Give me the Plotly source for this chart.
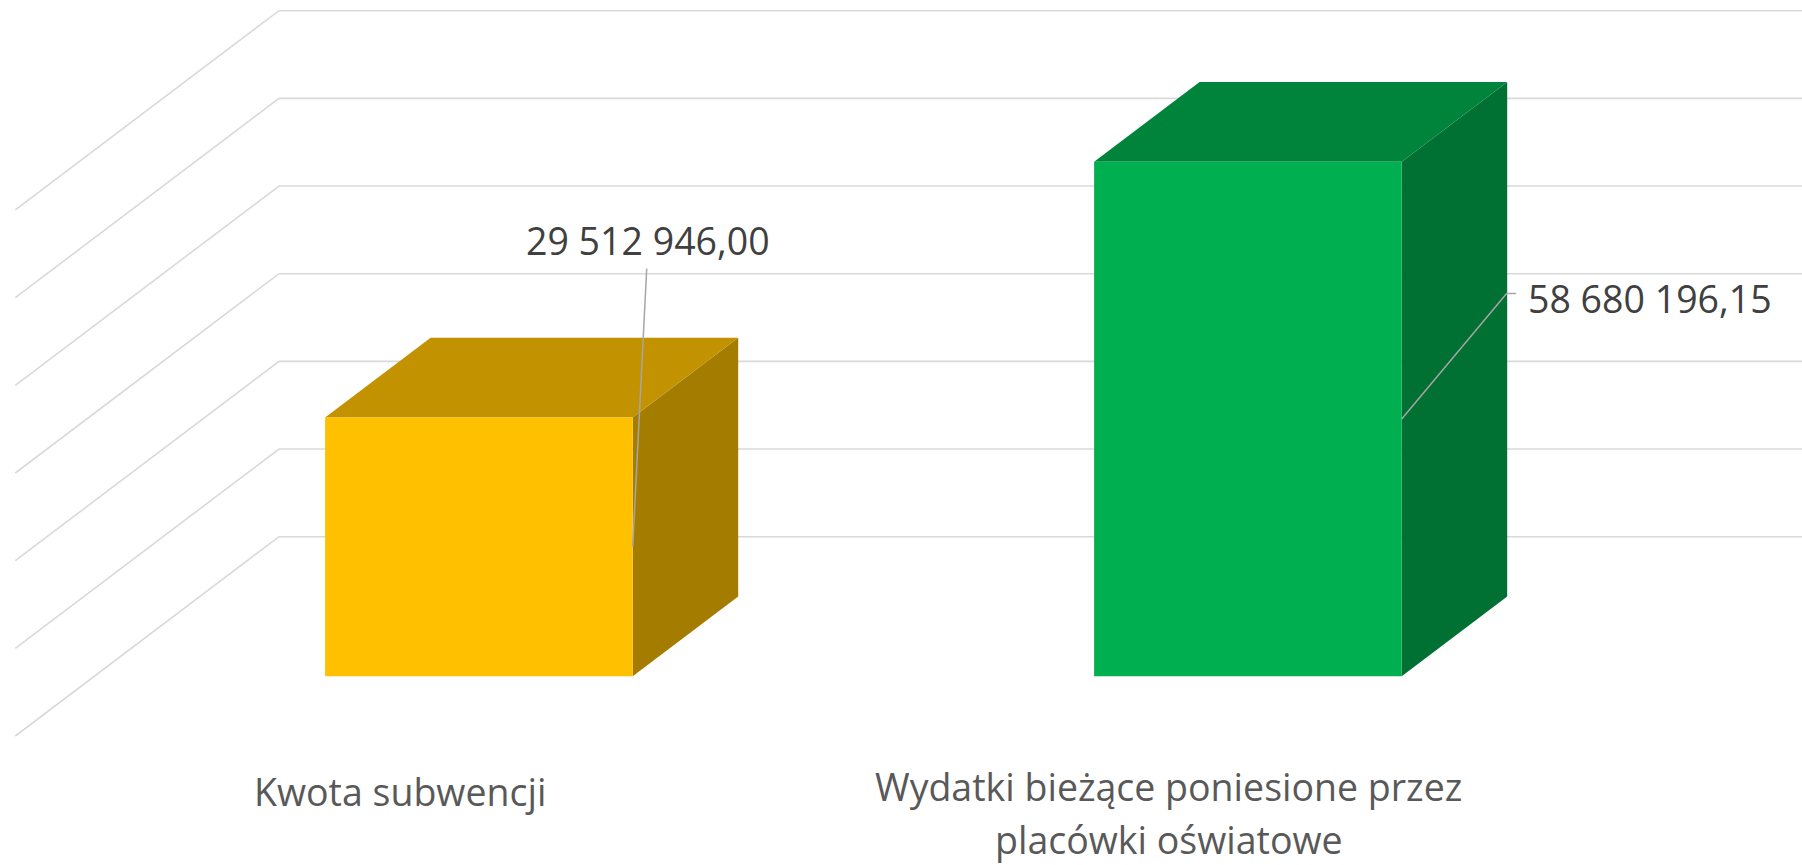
import plotly.graph_objects as go

# ---------------- data ----------------
categories = ["Kwota subwencji", "Wydatki bieżące poniesione przez<br>placówki oświatowe"]
values = [29512946.00, 58680196.15]
value_labels = ["29 512 946,00", "58 680 196,15"]
tick_values = [0, 10e6, 20e6, 30e6, 40e6, 50e6, 60e6]

# ---------------- styles ----------------
front_colors = ["#FFC000", "#00B050"]
top_colors = ["#C29200", "#00843C"]
side_colors = ["#A47D00", "#007033"]
GRID_COLOR = "#D9D9D9"
LEADER_COLOR = "#A6A6A6"
FONT = "Open Sans"

# ---------------- projection (oblique 3-D look) ----------------
W, H = 1802, 865
PX_PER_CAT = 769.0                 # pixels per category slot
PX_PER_VAL = 87.67 / 10e6          # pixels per value unit
ORIGIN_PX = (15.3, 736.0)          # front-left corner of floor (value 0, depth 0)
DEPTH_PX = (263.7, 199.3)          # screen shift for full floor depth
BAR_HALF = 0.2                     # half bar width in category units
D0, D1 = 0.3, 0.7                  # bar front/back depth fractions

DX = DEPTH_PX[0] / PX_PER_CAT
DY = DEPTH_PX[1] / PX_PER_VAL
x_range = [(0 - ORIGIN_PX[0]) / PX_PER_CAT - 0.5, (W - ORIGIN_PX[0]) / PX_PER_CAT - 0.5]
y_range = [(ORIGIN_PX[1] - H) / PX_PER_VAL, ORIGIN_PX[1] / PX_PER_VAL]


def off(dx_px, dy_px):
    """pixel offset (screen, y down) -> data offset"""
    return dx_px / PX_PER_CAT, -dy_px / PX_PER_VAL


def pt(x, v, d):
    return x + d * DX, v + d * DY


fig = go.Figure()

# gridlines: left wall diagonals + back wall horizontals
gx, gy = [], []
n = len(categories)
for t in tick_values:
    a = pt(-0.5, t, 0)
    b = pt(-0.5, t, 1)
    c = pt(n - 0.5, t, 1)
    gx += [a[0], b[0], c[0], None]
    gy += [a[1], b[1], c[1], None]
fig.add_trace(go.Scatter(x=gx, y=gy, mode="lines",
                         line=dict(color=GRID_COLOR, width=1.6),
                         hoverinfo="skip", showlegend=False))


def poly(points, color):
    xs = [p[0] for p in points] + [points[0][0]]
    ys = [p[1] for p in points] + [points[0][1]]
    fig.add_trace(go.Scatter(x=xs, y=ys, mode="lines", fill="toself",
                             fillcolor=color, line=dict(width=0, color=color),
                             hoverinfo="skip", showlegend=False))


for i, v in enumerate(values):
    xl, xr = i - BAR_HALF, i + BAR_HALF
    # side face
    poly([pt(xr, 0, D0), pt(xr, 0, D1), pt(xr, v, D1), pt(xr, v, D0)], side_colors[i])
    # top face
    poly([pt(xl, v, D0), pt(xr, v, D0), pt(xr, v, D1), pt(xl, v, D1)], top_colors[i])
    # front face
    poly([pt(xl, 0, D0), pt(xr, 0, D0), pt(xr, v, D0), pt(xl, v, D0)], front_colors[i])

# data labels with leader lines (anchor: middle of front face right edge)
leader_offsets_px = [[(14.0, -278.4)], [(104.9, -125.5), (114.5, -125.5)]]
text_offsets_px = [(15.0, -306.5), (124.5, -120.5)]
text_anchor = ["center", "left"]
for i, v in enumerate(values):
    ax, ay = pt(i + BAR_HALF, v / 2, D0)
    lx, ly = [ax], [ay]
    for ox, oy in leader_offsets_px[i]:
        dx, dy = off(ox, oy)
        lx.append(ax + dx)
        ly.append(ay + dy)
    fig.add_trace(go.Scatter(x=lx, y=ly, mode="lines",
                             line=dict(color=LEADER_COLOR, width=1.5),
                             hoverinfo="skip", showlegend=False))
    tdx, tdy = off(*text_offsets_px[i])
    fig.add_annotation(x=ax + tdx, y=ay + tdy, xref="x", yref="y",
                       text=value_labels[i], showarrow=False,
                       xanchor=text_anchor[i], yanchor="middle",
                       font=dict(family=FONT, size=37.5, color="#404040"))

# category labels at floor front edge (one annotation per text line)
cat_first_line_y_px = [791, 786]
LINE_STEP_PX = 53.5
for i, c in enumerate(categories):
    for k, line in enumerate(c.split("<br>")):
        y_px = cat_first_line_y_px[i] + k * LINE_STEP_PX
        fig.add_annotation(x=i, y=1 - y_px / H, xref="x", yref="paper",
                           text=line, showarrow=False, xanchor="center", yanchor="middle",
                           font=dict(family=FONT, size=37.5, color="#595959"))

fig.update_layout(
    width=W, height=H,
    margin=dict(l=0, r=0, t=0, b=0),
    paper_bgcolor="white", plot_bgcolor="white",
    xaxis=dict(range=x_range, visible=False, fixedrange=True),
    yaxis=dict(range=y_range, visible=False, fixedrange=True),
    showlegend=False, hovermode=False,
)

fig.write_html("out.html", config={"displayModeBar": False},
               post_script="document.body.style.margin='0';document.body.style.overflow='hidden';")
